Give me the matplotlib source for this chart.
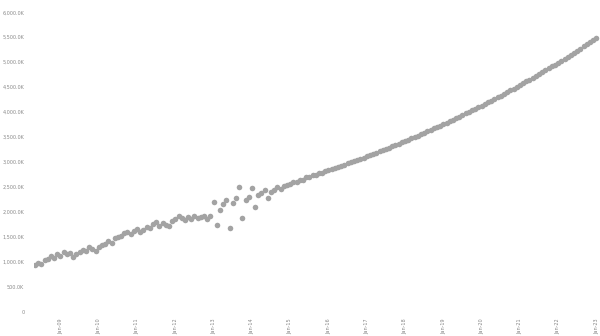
import matplotlib
matplotlib.use("Agg")
import matplotlib.pyplot as plt
from matplotlib.ticker import FuncFormatter

# values in thousands, one per month
history = [936, 976, 956, 1036, 1056, 1116, 1076, 1156, 1116, 1196,
           1156, 1176, 1096, 1156, 1196, 1236, 1216, 1297, 1257, 1216,
           1297, 1337, 1357, 1417, 1377, 1477, 1497, 1517, 1577, 1597,
           1557, 1617, 1657, 1597, 1637, 1697, 1677, 1758, 1798, 1717,
           1778, 1738, 1717, 1818, 1858, 1918, 1878, 1838, 1898, 1858,
           1918, 1878, 1898, 1918, 1858]
scattered = [1918, 2198, 1738, 2038, 2158, 2238, 1677, 2178, 2279, 2499,
             1878, 2238, 2299, 2479, 2098, 2339, 2379, 2439, 2279, 2399,
             2439, 2499, 2459, 2519, 2539, 2559, 2599, 2599, 2639]
projection = [2640, 2695, 2690, 2735, 2740, 2772, 2789, 2811, 2833, 2855,
              2878, 2901, 2924, 2947, 2970, 2993, 3017, 3041, 3065, 3089,
              3113, 3138, 3163, 3188, 3213, 3238, 3264, 3290, 3316, 3342,
              3368, 3395, 3422, 3449, 3476, 3503, 3531, 3559, 3587, 3615,
              3644, 3673, 3702, 3731, 3760, 3790, 3820, 3850, 3880, 3911,
              3942, 3973, 4004, 4036, 4068, 4100, 4132, 4165, 4198, 4231,
              4264, 4298, 4332, 4366, 4401, 4436, 4471, 4506, 4542, 4578,
              4614, 4650, 4687, 4724, 4761, 4799, 4837, 4875, 4914, 4953,
              4992, 5031, 5071, 5111, 5151, 5192, 5233, 5274, 5316, 5358,
              5400, 5443, 5486]
values = history + scattered + projection
months = list(range(len(values)))

tick_pos = list(range(8, 177, 12))
tick_labels = ["Jan-%02d" % (9 + k) for k in range(len(tick_pos))]
y_ticks = list(range(0, 6001, 500))

fig = plt.figure(figsize=(6, 3.36), dpi=100)
ax = fig.add_axes([34 / 600, 0.0723, 565 / 600, 0.8911])

ax.scatter(months, values, s=16, color="#a3a3a3", linewidths=0, zorder=3)

ax.set_xlim(-0.3, 176.8)
ax.set_ylim(0, 6000)
ax.set_yticks(y_ticks)
ax.yaxis.set_major_formatter(
    FuncFormatter(lambda v, p: "0" if v == 0 else "{:,.1f}K".format(v)))
ax.set_xticks(tick_pos)
ax.set_xticklabels(tick_labels, rotation=90)

ax.tick_params(axis="both", length=0, labelsize=3.5, labelcolor="#888888")
ax.tick_params(axis="y", pad=7)
ax.tick_params(axis="x", pad=5)
for s in ax.spines.values():
    s.set_visible(False)

fig.savefig("out.png", dpi=100)
